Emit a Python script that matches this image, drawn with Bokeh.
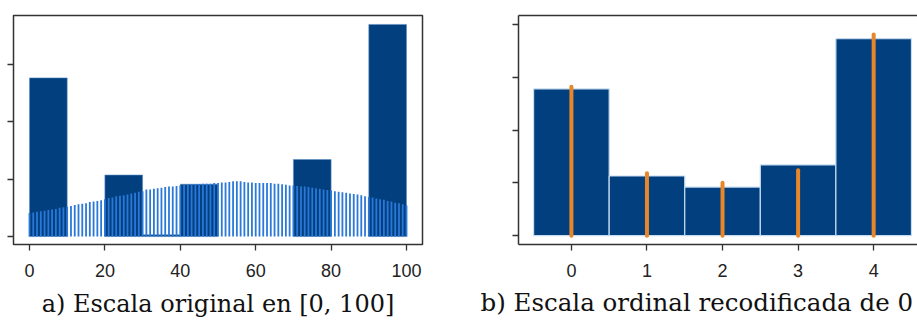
from bokeh.plotting import figure
from bokeh.models import Range1d, FixedTicker, LinearAxis, Title
from bokeh.layouts import row
from bokeh.embed import file_html
from bokeh.resources import INLINE

# ---- data: panel a (original scale 0..100) ----
bin_left = [0, 10, 20, 30, 40, 50, 60, 70, 80, 90]
bin_right = [10, 20, 30, 40, 50, 60, 70, 80, 90, 100]
bin_height = [2.76, 0.0, 1.07, 0.03, 0.91, 0.0, 0.0, 1.34, 0.0, 3.69]

score_x = list(range(0, 101))
score_h = [
    0.41, 0.42, 0.43, 0.44, 0.45, 0.46, 0.47, 0.48, 0.50, 0.51, 0.52,
    0.53, 0.55, 0.56, 0.57, 0.58, 0.60, 0.61, 0.62, 0.63, 0.65,
    0.67, 0.68, 0.70, 0.71, 0.72, 0.73, 0.75, 0.76, 0.78, 0.79,
    0.82, 0.82, 0.83, 0.84, 0.85, 0.86, 0.87, 0.87, 0.88, 0.89,
    0.90, 0.90, 0.91, 0.91, 0.91, 0.92, 0.92, 0.92, 0.93, 0.93,
    0.94, 0.94, 0.95, 0.96, 0.96, 0.96, 0.95, 0.94, 0.94, 0.93,
    0.93, 0.93, 0.93, 0.93, 0.92, 0.92, 0.91, 0.90, 0.89, 0.89,
    0.88, 0.87, 0.87, 0.86, 0.85, 0.84, 0.83, 0.82, 0.81, 0.80,
    0.79, 0.78, 0.77, 0.76, 0.75, 0.74, 0.73, 0.72, 0.70, 0.69,
    0.68, 0.66, 0.65, 0.64, 0.62, 0.61, 0.59, 0.58, 0.56, 0.54,
]
ticks_a = [0, 20, 40, 60, 80, 100]

# ---- data: panel b (ordinal 0..4) ----
cat_x = [0, 1, 2, 3, 4]
cat_bar = [2.78, 1.13, 0.92, 1.34, 3.73]
cat_line = [2.82, 1.18, 1.00, 1.24, 3.81]

caption_a = "a) Escala original en [0, 100]"
caption_b = "b) Escala ordinal recodificada de 0"

NAVY = "#023f7f"
FRAME = "#333333"
LABEL_FONT = "Liberation Sans"
CAP_FONT = "DejaVu Serif"


def style_axes(p):
    for ax in p.xaxis + p.yaxis:
        ax.minor_tick_line_color = None
        ax.major_tick_in = 0
        ax.major_tick_out = 6
        ax.major_tick_line_color = FRAME
        ax.major_tick_line_width = 1.3
        ax.major_label_text_font = LABEL_FONT
        ax.major_label_text_font_size = "18px"
        ax.major_label_text_color = "#222222"
    p.grid.visible = False


# ---------- panel a ----------
p1 = figure(width=463, height=325, output_backend="svg", toolbar_location=None,
            x_range=Range1d(-4.24, 104.24), y_range=Range1d(-0.138, 3.845),
            min_border_left=13, min_border_right=41, min_border_top=13,
            min_border_bottom=81)
p1.outline_line_color = FRAME
p1.outline_line_width = 1.5
p1.background_fill_color = "white"

nz = [i for i, h in enumerate(bin_height) if h > 0]
p1.quad(left=[bin_left[i] for i in nz], right=[bin_right[i] for i in nz],
        bottom=0, top=[bin_height[i] for i in nz],
        fill_color=NAVY, line_color="#5d8fc4", line_width=0.6)
p1.segment(x0=score_x, y0=0, x1=score_x, y1=score_h,
           line_color="#2a78d8", line_width=1.8)

style_axes(p1)
p1.xaxis.ticker = FixedTicker(ticks=ticks_a)
p1.xaxis.axis_line_color = None
p1.xaxis.major_label_standoff = 13
p1.yaxis.ticker = FixedTicker(ticks=[0, 1, 2, 3])
p1.yaxis.axis_line_color = None
p1.yaxis.major_label_overrides = {0: "", 1: "", 2: "", 3: ""}
p1.yaxis.major_label_standoff = 0

p1.add_layout(Title(text=caption_a, align="center", text_font=CAP_FONT,
                    text_font_size="24px", text_font_style="normal",
                    text_color="#111111", standoff=16), "below")

# ---------- panel b ----------
p2 = figure(width=454, height=325, output_backend="svg", toolbar_location=None,
            x_range=Range1d(-0.70, 4.58), y_range=Range1d(-0.168, 4.17),
            min_border_left=55, min_border_right=0, min_border_top=15,
            min_border_bottom=78)
p2.outline_line_color = None
p2.background_fill_color = "white"

p2.vbar(x=cat_x, width=1.0, bottom=0, top=cat_bar,
        fill_color=NAVY, line_color="#c6dcf0", line_width=1.2)
p2.segment(x0=cat_x, y0=0, x1=cat_x, y1=cat_line,
           line_color="#e8862a", line_width=4, line_cap="round")

style_axes(p2)
p2.xaxis.ticker = FixedTicker(ticks=cat_x)
p2.xaxis.axis_line_color = FRAME
p2.xaxis.axis_line_width = 1.5
p2.xaxis.major_label_standoff = 13
p2.yaxis.ticker = FixedTicker(ticks=[0, 1, 2, 3, 4])
p2.yaxis.axis_line_color = FRAME
p2.yaxis.axis_line_width = 1.5
p2.yaxis.major_label_overrides = {0: "", 1: "", 2: "", 3: "", 4: ""}
p2.yaxis.major_label_standoff = 0

top_axis = LinearAxis(ticker=FixedTicker(ticks=[]), major_tick_out=0, major_tick_in=0,
                      minor_tick_line_color=None, axis_line_color=FRAME,
                      axis_line_width=1.5, major_label_standoff=0)
p2.add_layout(top_axis, "above")

p2.add_layout(Title(text=caption_b, align="left", offset=-38,
                    text_font=CAP_FONT, text_font_size="24.5px",
                    text_font_style="normal", text_color="#111111", standoff=13),
              "below")

layout = row(p1, p2)
open("out.html", "w").write(file_html(layout, INLINE))
